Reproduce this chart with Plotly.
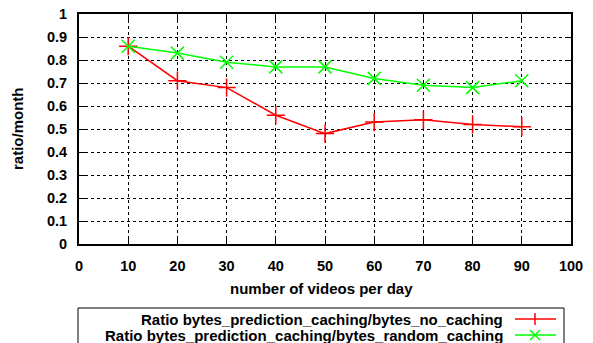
import plotly.graph_objects as go

videos = [10, 20, 30, 40, 50, 60, 70, 80, 90]
ratio_no_caching = [0.86, 0.71, 0.68, 0.56, 0.48, 0.53, 0.54, 0.52, 0.51]
ratio_random_caching = [0.86, 0.83, 0.79, 0.77, 0.77, 0.72, 0.69, 0.68, 0.71]
series_names = ["Ratio bytes_prediction_caching/bytes_no_caching",
                "Ratio bytes_prediction_caching/bytes_random_caching"]
x_title = "number of videos per day"
y_title = "ratio/month"
colors = ["#ff0000", "#00ff00"]
symbols = ["cross-thin", "x-thin"]

W, H = 593, 343
PL, PR, PT, PB = 79, 571, 14, 244  # plot area in window pixels
L, T = PL, PT
R, B = W - PR, H - PB
PW, PH = PR - PL, PB - PT

def px(x):
    return (x - PL) / PW

def py(y):
    return (PB - y) / PH

fig = go.Figure()
for vals, name, c, s in zip([ratio_no_caching, ratio_random_caching], series_names, colors, symbols):
    fig.add_trace(go.Scatter(
        x=videos, y=vals, mode="lines+markers", name=name,
        line=dict(color=c, width=1.5),
        marker=dict(symbol=s, size=13, line=dict(color=c, width=1.5), color=c),
        showlegend=False,
    ))

FAM = "Liberation Sans"
def bf(size):
    return dict(family=FAM, size=size, color="black", weight="bold")

axis_common = dict(
    showline=True, linecolor="black", linewidth=2, mirror="allticks",
    ticks="inside", ticklen=6, tickcolor="black", tickwidth=1,
    showgrid=True, gridcolor="black", gridwidth=1, griddash="dot",
    zeroline=False, tickfont=bf(14.5), automargin=False,
    ticklabeloverflow="allow",
)
fig.update_xaxes(range=[0, 100], dtick=10, tick0=0, ticklabelstandoff=8, **axis_common)
fig.update_yaxes(range=[0, 1], dtick=0.1, tick0=0, ticklabelstandoff=7, **axis_common)

shapes = []
annotations = [
    dict(xref="paper", yref="paper", x=px(321), y=py(288), xanchor="center", yanchor="middle",
         showarrow=False, text="<b>" + x_title + "</b>", font=bf(15)),
    dict(xref="paper", yref="paper", x=px(17), y=py(129), xanchor="center", yanchor="middle",
         showarrow=False, text="<b>" + y_title + "</b>", font=bf(15), textangle=-90),
]
shapes.append(dict(type="rect", xref="paper", yref="paper",
                   x0=px(78), x1=px(564), y0=py(370), y1=py(308),
                   line=dict(color="black", width=1), fillcolor="white", layer="above"))
rows = [319, 335]
for i, (name, c) in enumerate(zip(series_names, colors)):
    yy = rows[i]
    annotations.append(dict(xref="paper", yref="paper", x=px(505), y=py(yy),
                            xanchor="right", yanchor="middle", showarrow=False,
                            text="<b>" + name + "</b>", font=bf(15)))
    shapes.append(dict(type="line", xref="paper", yref="paper", x0=px(515), x1=px(556),
                       y0=py(yy), y1=py(yy), line=dict(color=c, width=1.5), layer="above"))
    cx = 535
    if i == 0:
        shapes.append(dict(type="line", xref="paper", yref="paper", x0=px(cx), x1=px(cx),
                           y0=py(yy - 6), y1=py(yy + 6), line=dict(color=c, width=1.5), layer="above"))
    else:
        shapes.append(dict(type="line", xref="paper", yref="paper", x0=px(cx - 5), x1=px(cx + 5),
                           y0=py(yy - 5), y1=py(yy + 5), line=dict(color=c, width=1.5), layer="above"))
        shapes.append(dict(type="line", xref="paper", yref="paper", x0=px(cx - 5), x1=px(cx + 5),
                           y0=py(yy + 5), y1=py(yy - 5), line=dict(color=c, width=1.5), layer="above"))

fig.update_layout(
    width=W, height=H, margin=dict(l=L, r=R, t=T, b=B, autoexpand=False),
    paper_bgcolor="white", plot_bgcolor="white",
    font=bf(15), shapes=shapes, annotations=annotations,
)
fig.write_html("out.html", config={"displayModeBar": False},
               post_script="document.body.style.margin='0px';document.body.style.overflow='hidden';")
